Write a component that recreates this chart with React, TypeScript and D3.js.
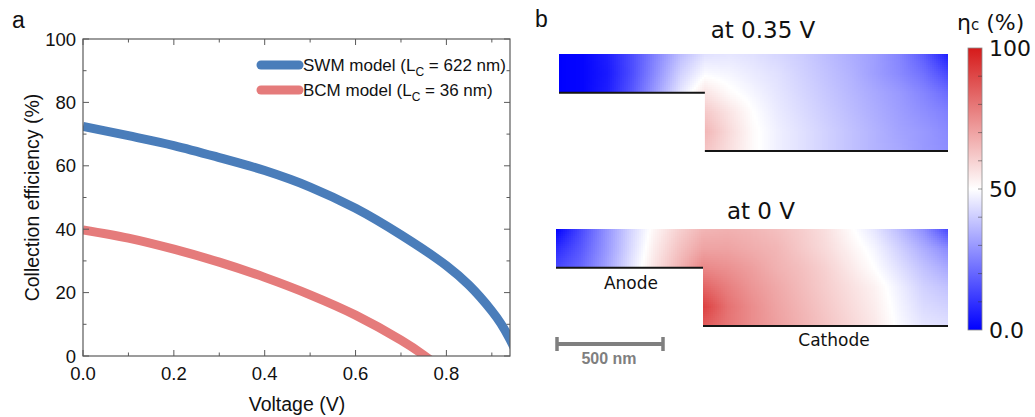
import * as d3 from "d3";
import React from "react";

// ---- panel a: collection efficiency vs voltage ----
const swmVoltage = [0, 0.1, 0.2, 0.3, 0.4, 0.5, 0.6, 0.7, 0.8, 0.85, 0.9, 0.92, 0.94, 0.96];
const swmEff = [72.4, 69.5, 66.4, 62.6, 58.5, 53.3, 46.6, 38.2, 28.5, 22.3, 14.2, 10.2, 5.2, -1];
const bcmVoltage = [0, 0.1, 0.2, 0.3, 0.4, 0.5, 0.6, 0.7, 0.75, 0.78];
const bcmEff = [39.8, 37.2, 33.7, 29.6, 24.8, 19.3, 12.9, 5.0, 0.3, -3];
const seriesNames = ["SWM model", "BCM model"];
const seriesLc = ["622 nm", "36 nm"];
const seriesColors = ["#4a7dba", "#e57b7b"];

// ---- panel b: collection efficiency maps (%), rows top->bottom, cols left->right ----
// null = outside the device (below the anode step)
const mapAt035 = [
  [0, 1, 6, 15, 26, 37, 44, 45, 44, 42, 40, 37, 34, 31, 26, 18, 6],
  [0, 1, 5, 15, 28, 41, 49, 48, 46, 44, 41, 38, 35, 31, 27, 22, 14],
  [0, 1, 6, 17, 31, 45, 56, 51, 48, 45, 42, 39, 36, 33, 30, 26, 21],
  [null, null, null, null, null, null, 62, 56, 50, 46, 43, 40, 37, 34, 31, 28, 25],
  [null, null, null, null, null, null, 66, 58, 51, 47, 44, 41, 38, 35, 32, 30, 27],
  [null, null, null, null, null, null, 63, 57, 51, 47, 44, 41, 38, 35, 33, 30, 28],
];
const mapAt0 = [
  [0, 14, 28, 41, 52, 60, 66, 67, 66, 64, 61, 57, 51, 45, 37, 28, 14],
  [8, 17, 29, 42, 54, 63, 70, 70, 68, 66, 62, 58, 53, 48, 41, 34, 27],
  [14, 20, 31, 44, 56, 66, 76, 74, 71, 67, 64, 60, 55, 50, 44, 38, 33],
  [null, null, null, null, null, null, 84, 78, 73, 69, 65, 61, 57, 53, 47, 41, 38],
  [null, null, null, null, null, null, 92, 81, 75, 70, 66, 62, 58, 54, 48, 43, 41],
  [null, null, null, null, null, null, 86, 80, 75, 71, 67, 63, 59, 55, 49, 45, 44],
];
const colorbarTicks = [100, 50, 0];

const W = 1035;
const H = 417;
const armFont = "'Liberation Sans', Arial, sans-serif";
const dvFont = "'DejaVu Sans', Verdana, sans-serif";

const effColor = d3
  .scaleLinear<string>()
  .domain([0, 50, 100])
  .range(["#0000ff", "#ffffff", "#d61a1a"])
  .clamp(true);

const m = { left: 83, right: 510, top: 39, bottom: 356 };

const PanelA = () => {
  const x = d3.scaleLinear().domain([0, 0.94]).range([m.left, m.right]);
  const y = d3.scaleLinear().domain([0, 100]).range([m.bottom, m.top]);
  const line = d3
    .line<[number, number]>()
    .x((d) => x(d[0]))
    .y((d) => y(d[1]))
    .curve(d3.curveCatmullRom.alpha(0.5));
  const swm = swmVoltage.map((v, i) => [v, swmEff[i]] as [number, number]);
  const bcm = bcmVoltage.map((v, i) => [v, bcmEff[i]] as [number, number]);
  const xMinor = d3.range(0, 0.94, 0.1);
  const yMinor = d3.range(0, 101, 10);
  const axisCol = "#5a5a5a";

  return (
    <g>
      <text x={12} y={28} fontFamily={armFont} fontSize={23} fill="#111">a</text>
      <defs>
        <clipPath id="plotClip">
          <rect x={m.left} y={m.top} width={m.right - m.left} height={m.bottom - m.top} />
        </clipPath>
      </defs>
      <g clipPath="url(#plotClip)">
        <path d={line(swm) || ""} fill="none" stroke={seriesColors[0]} strokeWidth={9} />
        <path d={line(bcm) || ""} fill="none" stroke={seriesColors[1]} strokeWidth={9} />
      </g>
      <rect
        x={m.left}
        y={m.top}
        width={m.right - m.left}
        height={m.bottom - m.top}
        fill="none"
        stroke={axisCol}
        strokeWidth={1.2}
      />
      {xMinor.map((v, i) => {
        const len = i % 2 === 0 ? 6 : 3.5;
        return (
          <g key={"xt" + i}>
            <line x1={x(v)} x2={x(v)} y1={m.bottom} y2={m.bottom - len} stroke={axisCol} />
            <line x1={x(v)} x2={x(v)} y1={m.top} y2={m.top + len} stroke={axisCol} />
          </g>
        );
      })}
      {yMinor.map((v, i) => {
        const len = i % 2 === 0 ? 6 : 3.5;
        return (
          <g key={"yt" + i}>
            <line x1={m.left} x2={m.left + len} y1={y(v)} y2={y(v)} stroke={axisCol} />
            <line x1={m.right} x2={m.right - len} y1={y(v)} y2={y(v)} stroke={axisCol} />
          </g>
        );
      })}
      {xMinor
        .filter((_, i) => i % 2 === 0)
        .map((v) => (
          <text
            key={"xl" + v}
            x={x(v)}
            y={380}
            textAnchor="middle"
            fontFamily={armFont}
            fontSize={18.5}
            fill="#111"
          >
            {d3.format(".1f")(v)}
          </text>
        ))}
      {yMinor
        .filter((_, i) => i % 2 === 0)
        .map((v) => (
          <text
            key={"yl" + v}
            x={76}
            y={y(v) + 6.5}
            textAnchor="end"
            fontFamily={armFont}
            fontSize={18.5}
            fill="#111"
          >
            {v}
          </text>
        ))}
      <text x={297} y={411} textAnchor="middle" fontFamily={armFont} fontSize={19.5} fill="#111">
        Voltage (V)
      </text>
      <text
        transform={`translate(39,${(m.top + m.bottom) / 2}) rotate(-90)`}
        textAnchor="middle"
        fontFamily={armFont}
        fontSize={19.5}
        fill="#111"
      >
        Collection efficiency (%)
      </text>
      {seriesNames.map((name, i) => {
        const ly = 65 + i * 25;
        return (
          <g key={name}>
            <line
              x1={261}
              x2={299}
              y1={ly}
              y2={ly}
              stroke={seriesColors[i]}
              strokeWidth={9}
              strokeLinecap="round"
            />
            <text x={303} y={ly + 6} fontFamily={armFont} fontSize={17} fill="#111">
              {name} (L
              <tspan dy={5} fontSize={12}>C</tspan>
              <tspan dy={-5}> = {seriesLc[i]})</tspan>
            </text>
          </g>
        );
      })}
    </g>
  );
};

type FieldProps = {
  id: string;
  grid: (number | null)[][];
  x0: number;
  x1: number;
  y0: number;
  y1: number;
};

const STEP_COL = 6;
const STEP_ROW = 2;
const CELL = 2;

const Field = ({ id, grid, x0, x1, y0, y1 }: FieldProps) => {
  const nRows = grid.length;
  const nCols = grid[0].length;
  const col = d3.scaleLinear().domain([0, nCols - 1]).range([x0, x1]);
  const row = d3.scaleLinear().domain([0, nRows - 1]).range([y0, y1]);
  const xs = col(STEP_COL);
  const ys = row(STEP_ROW);

  const at = (r: number, c: number): number => {
    let rr = r;
    while (rr > 0 && grid[rr][c] === null) rr--;
    return grid[rr][c] as number;
  };

  const cells: { x: number; y: number; v: number }[] = [];
  for (let px = x0 - 1; px < x1 + 1; px += CELL) {
    for (let py = y0 - 1; py < y1 + 1; py += CELL) {
      const c = Math.max(0, Math.min(nCols - 1, col.invert(px + CELL / 2)));
      const r = Math.max(0, Math.min(nRows - 1, row.invert(py + CELL / 2)));
      if (px + CELL <= xs - 1 && py >= ys + 1) continue;
      const c0 = Math.min(Math.floor(c), nCols - 2);
      const r0 = Math.min(Math.floor(r), nRows - 2);
      const fc = c - c0;
      const fr = r - r0;
      const v =
        at(r0, c0) * (1 - fc) * (1 - fr) +
        at(r0, c0 + 1) * fc * (1 - fr) +
        at(r0 + 1, c0) * (1 - fc) * fr +
        at(r0 + 1, c0 + 1) * fc * fr;
      cells.push({ x: px, y: py, v });
    }
  }

  const outline = [
    [x0, y0],
    [x1, y0],
    [x1, y1],
    [xs, y1],
    [xs, ys],
    [x0, ys],
  ]
    .map((p) => p.join(","))
    .join(" ");

  return (
    <g>
      <defs>
        <clipPath id={id}>
          <polygon points={outline} />
        </clipPath>
      </defs>
      <g clipPath={`url(#${id})`} shapeRendering="crispEdges">
        {cells.map((d, i) => (
          <rect key={i} x={d.x} y={d.y} width={CELL} height={CELL} fill={effColor(d.v)} />
        ))}
      </g>
      <line x1={x0} x2={xs} y1={ys} y2={ys} stroke="#151515" strokeWidth={2} />
      <line x1={xs} x2={x1} y1={y1} y2={y1} stroke="#151515" strokeWidth={2} />
    </g>
  );
};

const PanelB = () => {
  const cb = { x: 968, w: 14, top: 48, bottom: 330 };
  const cy = d3.scaleLinear().domain([0, 100]).range([cb.bottom, cb.top]);
  const stops = d3.range(0, 101, 10);
  return (
    <g>
      <text x={535} y={27} fontFamily={armFont} fontSize={23} fill="#111">b</text>
      <text x={763} y={37.5} textAnchor="middle" fontFamily={dvFont} fontSize={23} fill="#111">
        at 0.35 V
      </text>
      <Field id="fieldA" grid={mapAt035} x0={559} x1={948} y0={54} y1={151} />
      <text x={761} y={219} textAnchor="middle" fontFamily={dvFont} fontSize={23} fill="#111">
        at 0 V
      </text>
      <Field id="fieldB" grid={mapAt0} x0={556} x1={948} y0={229} y1={326} />
      <text x={631} y={289} textAnchor="middle" fontFamily={dvFont} fontSize={17} fill="#111">
        Anode
      </text>
      <text x={834} y={346} textAnchor="middle" fontFamily={dvFont} fontSize={17} fill="#111">
        Cathode
      </text>

      {/* scale bar */}
      <line x1={556} x2={664} y1={344} y2={344} stroke="#7f7f7f" strokeWidth={4} />
      <line x1={557} x2={557} y1={337} y2={351} stroke="#7f7f7f" strokeWidth={3.5} />
      <line x1={663} x2={663} y1={337} y2={351} stroke="#7f7f7f" strokeWidth={3.5} />
      <text
        x={609}
        y={364}
        textAnchor="middle"
        fontFamily={armFont}
        fontWeight="bold"
        fontSize={16}
        fill="#7f7f7f"
      >
        500 nm
      </text>

      {/* colour bar */}
      <defs>
        <linearGradient id="cbGrad" x1="0" y1="1" x2="0" y2="0">
          {stops.map((s) => (
            <stop key={s} offset={`${s}%`} stopColor={effColor(s)} />
          ))}
        </linearGradient>
      </defs>
      <rect
        x={cb.x}
        y={cb.top}
        width={cb.w}
        height={cb.bottom - cb.top}
        fill="url(#cbGrad)"
        stroke="#8a8a8a"
        strokeWidth={0.8}
      />
      {stops.slice(1, -1).map((s) => (
        <line
          key={s}
          x1={cb.x + cb.w - 4}
          x2={cb.x + cb.w}
          y1={cy(s)}
          y2={cy(s)}
          stroke="#333"
          strokeOpacity={0.5}
        />
      ))}
      {colorbarTicks.map((t) => (
        <text
          key={t}
          x={989}
          y={cy(t) + 8}
          fontFamily={dvFont}
          fontSize={22}
          fill="#111"
        >
          {t === 0 ? "0.0" : t}
        </text>
      ))}
      <text x={957} y={30} fontFamily={dvFont} fontSize={22} fill="#111">
        η<tspan fontSize={15}>c</tspan> (%)
      </text>
    </g>
  );
};

export default function App() {
  return (
    <svg
      width={W}
      height={H}
      style={{ position: "absolute", left: 0, top: 0, background: "#fff" }}
    >
      <rect width={W} height={H} fill="#fff" />
      <PanelA />
      <PanelB />
    </svg>
  );
}
